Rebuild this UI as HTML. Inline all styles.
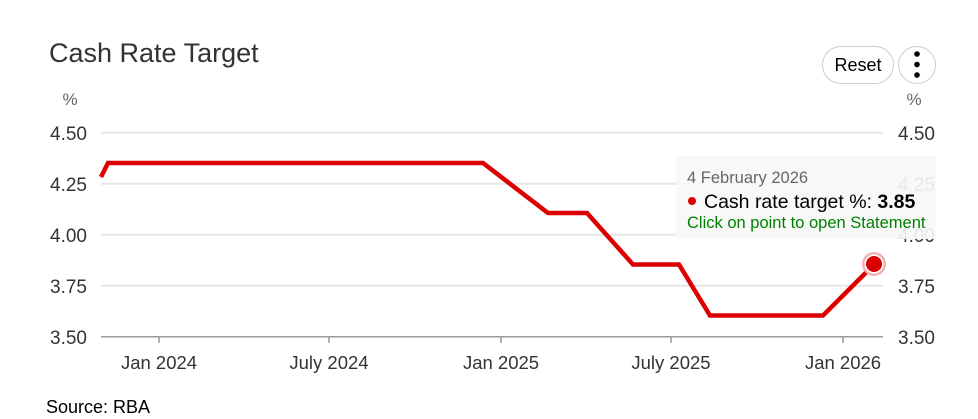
<!DOCTYPE html>
<html><head><style>
body{margin:0;background:#fff;width:978px;height:414px;overflow:hidden;font-family:"Liberation Sans",sans-serif}
</style></head><body>
<svg width="978" height="414" xmlns="http://www.w3.org/2000/svg" font-family="Liberation Sans, sans-serif">
<text x="49" y="62" font-size="27" fill="#333">Cash Rate Target</text>
<rect x="822.5" y="46.5" width="71" height="37" rx="18.5" fill="#fff" stroke="#ccc"/>
<text x="858" y="71" font-size="18" text-anchor="middle" fill="#000">Reset</text>
<circle cx="917" cy="65" r="18.5" fill="#fff" stroke="#ccc"/>
<circle cx="917" cy="54" r="2.8" fill="#000"/><circle cx="917" cy="64.5" r="2.8" fill="#000"/><circle cx="917" cy="75" r="2.8" fill="#000"/>
<text x="70" y="105" font-size="17" text-anchor="middle" fill="#666">%</text>
<text x="914" y="105" font-size="17" text-anchor="middle" fill="#666">%</text>
<g stroke="#e6e6e6" stroke-width="2">
<line x1="101" x2="883" y1="132.7" y2="132.7"/><line x1="101" x2="883" y1="183.7" y2="183.7"/>
<line x1="101" x2="883" y1="234.7" y2="234.7"/><line x1="101" x2="883" y1="285.7" y2="285.7"/>
</g>
<line x1="101" x2="883" y1="336.7" y2="336.7" stroke="#999" stroke-width="1.5"/>
<g stroke="#999" stroke-width="1.5">
<line x1="159" x2="159" y1="337" y2="343"/><line x1="329" x2="329" y1="337" y2="343"/><line x1="501" x2="501" y1="337" y2="343"/><line x1="671" x2="671" y1="337" y2="343"/><line x1="843" x2="843" y1="337" y2="343"/>
</g>
<g font-size="19" fill="#333" text-anchor="end">
<text x="87" y="140">4.50</text><text x="87" y="191">4.25</text><text x="87" y="242">4.00</text><text x="87" y="293">3.75</text><text x="87" y="344">3.50</text>
</g>
<g font-size="19" fill="#333" text-anchor="end">
<text x="935" y="140">4.50</text><text x="935" y="191">4.25</text><text x="935" y="242">4.00</text><text x="935" y="293">3.75</text><text x="935" y="344">3.50</text>
</g>
<g font-size="18.5" fill="#333" text-anchor="middle">
<text x="159" y="369">Jan 2024</text><text x="329" y="369">July 2024</text><text x="501" y="369">Jan 2025</text><text x="671" y="369">July 2025</text><text x="843" y="369">Jan 2026</text>
</g>
<polyline points="101,177 108,163 483,163 548,213 587,213 633,264.5 679,264.5 710,315.5 823,315.5 874,264.5" fill="none" stroke="#dd0000" stroke-width="4.5" stroke-linejoin="miter"/>
<rect x="676" y="156" width="260" height="83" fill="#f7f7f7" opacity="0.92"/>
<circle cx="874" cy="264" r="12" fill="#f4b3b3"/>
<circle cx="874" cy="264" r="9.5" fill="#fff"/>
<circle cx="874" cy="264" r="8" fill="#dd0000"/>
<text x="687" y="183" font-size="16.5" fill="#666">4 February 2026</text>
<circle cx="692" cy="201" r="4" fill="#dd0000"/>
<text x="704" y="208" font-size="19.5" fill="#000">Cash rate target %: <tspan font-weight="bold">3.85</tspan></text>
<text x="687" y="228" font-size="16.5" fill="#008000">Click on point to open Statement</text>
<text x="46" y="413" font-size="18" fill="#000">Source: RBA</text>
</svg>
</body></html>
